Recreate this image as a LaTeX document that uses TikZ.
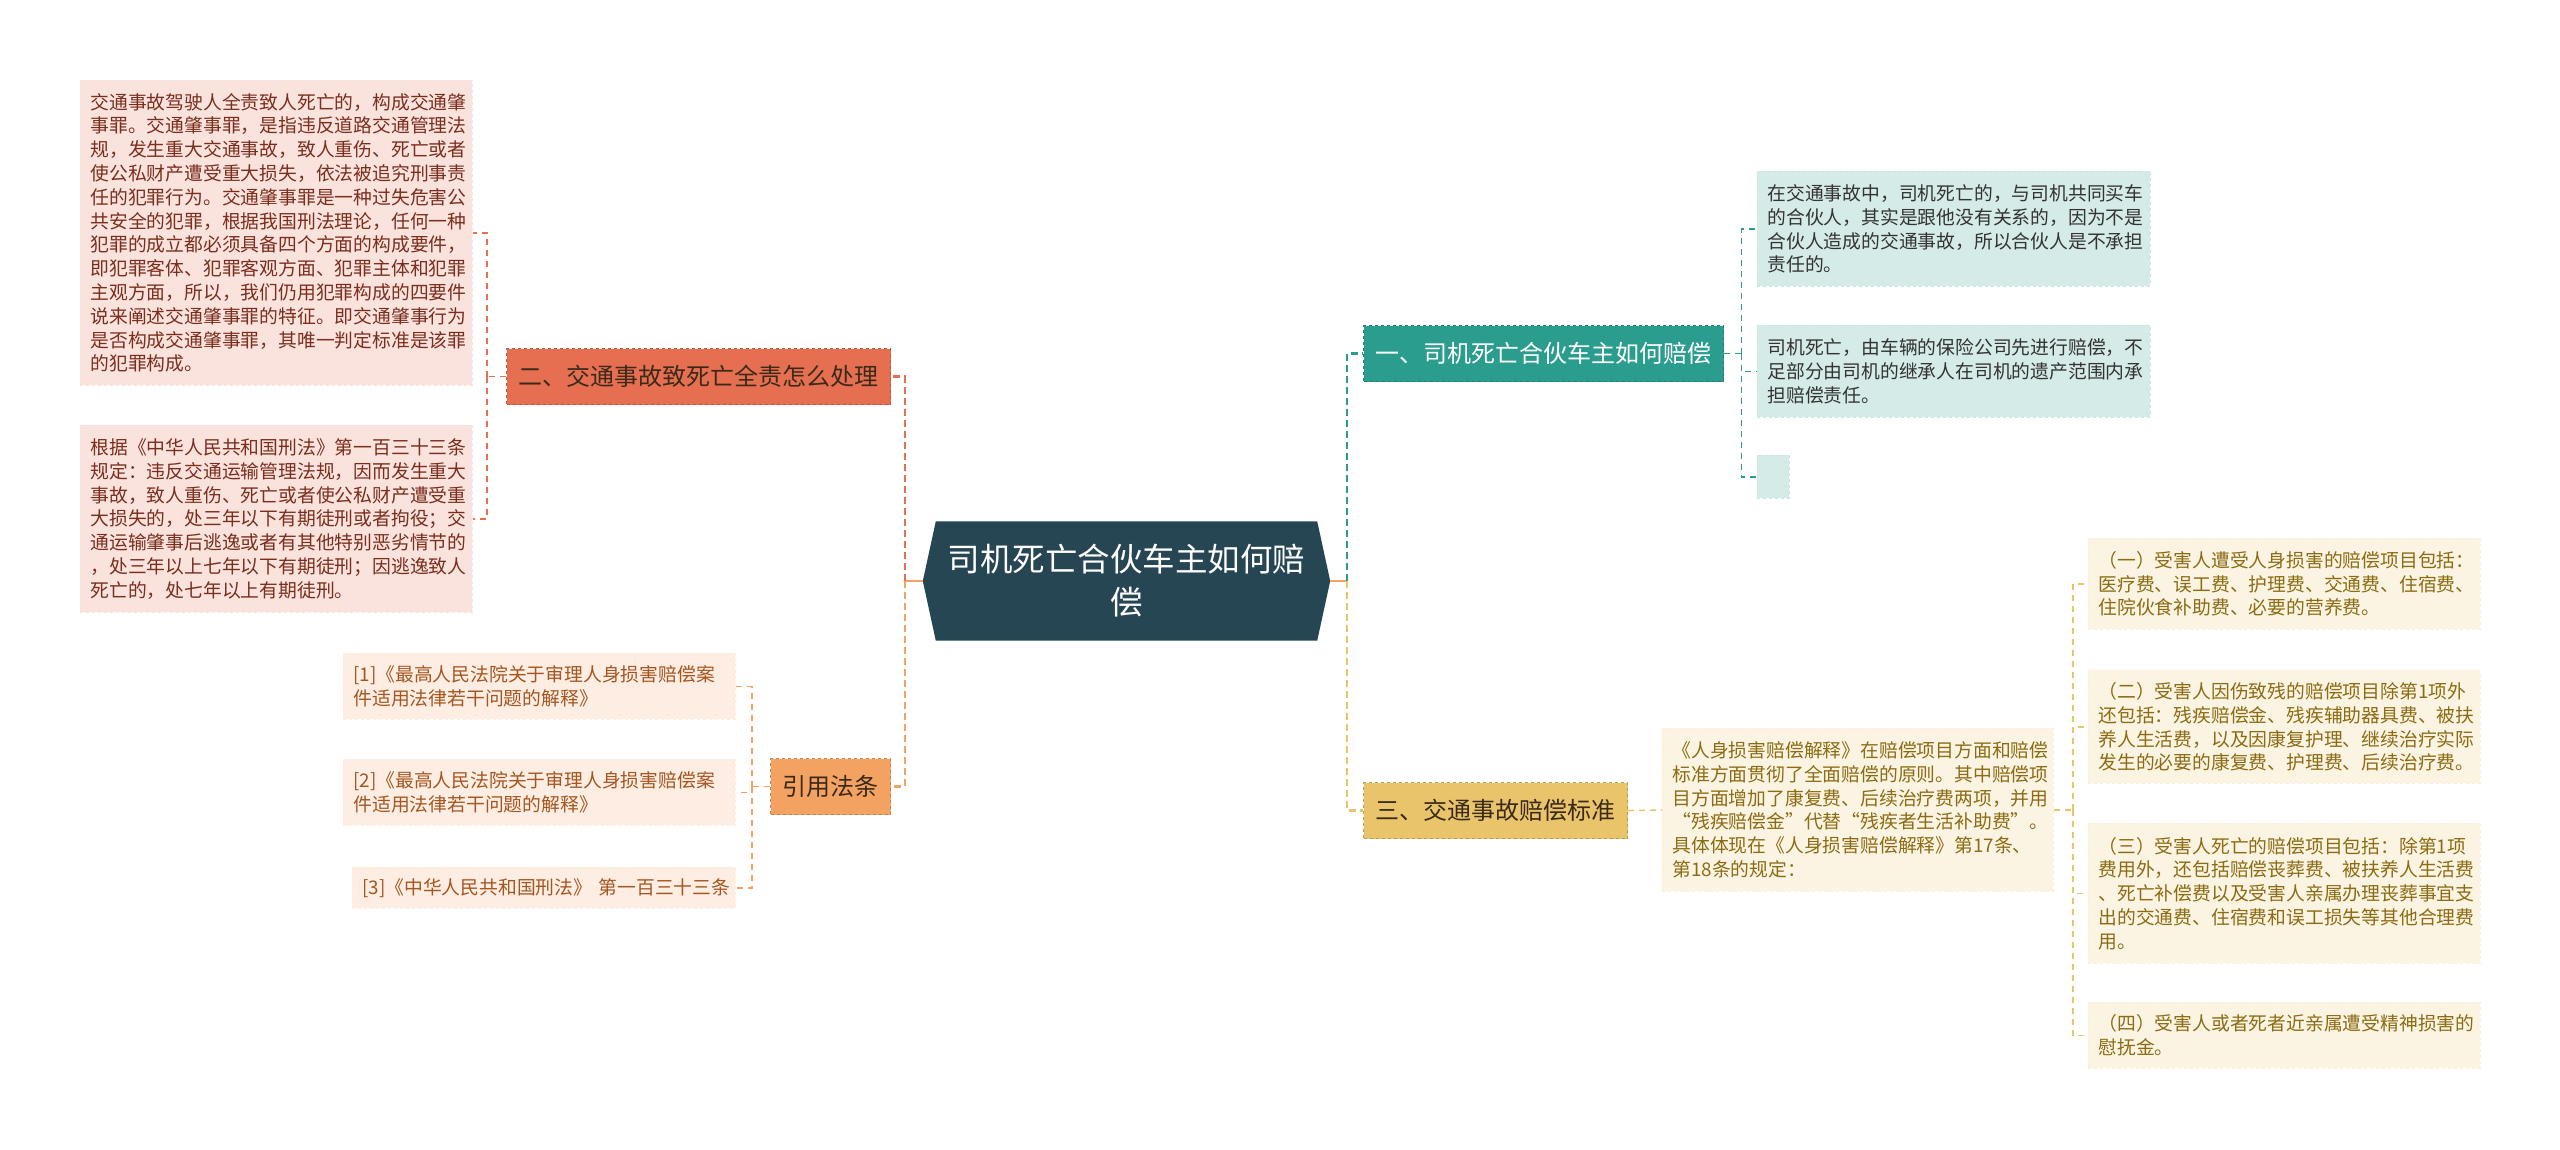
\documentclass[tikz,border=0pt]{standalone}
\usepackage{fontspec}
\setmainfont{Noto Sans CJK SC}
\usetikzlibrary{positioning,calc,backgrounds}
\definecolor{mmroot}{HTML}{264653}
\definecolor{mmteal}{HTML}{2A9D8F}
\definecolor{mmgold}{HTML}{E9C46A}
\definecolor{mmorange}{HTML}{F4A261}
\definecolor{mmred}{HTML}{E76F51}
\definecolor{leafteal}{HTML}{D5EBE8}
\definecolor{leafred}{HTML}{FBE3DD}
\definecolor{leaforange}{HTML}{FDEDE3}
\definecolor{leafgold}{HTML}{FBF4E3}
\definecolor{txtred}{HTML}{7A2E1D}
\definecolor{txtorange}{HTML}{A5561F}
\definecolor{txtgold}{HTML}{8C6B12}
\definecolor{txtdark}{HTML}{3A2A1A}
\newcommand{\leaffont}{\fontsize{18.8}{23.8}\selectfont}
\newcommand{\branchfont}{\fontsize{24}{29}\selectfont}
\newcommand{\rootfont}{\fontsize{32.5}{43}\selectfont}

\begin{document}
\begin{tikzpicture}[x=1pt, y=-1pt,
  rootbox/.style={inner sep=0pt, minimum width=407pt, minimum height=119pt,
    align=center, text=white, font=\rootfont},
  branchbox/.style={rectangle, anchor=north west, inner sep=0pt, minimum height=56pt,
    dashed, line width=1.2pt, font=\branchfont, text=txtdark},
  leafbox/.style={rectangle, anchor=north west, inner sep=0pt, inner xsep=10pt,
    align=left, dashed, line width=0.8pt, font=\leaffont},
  mainline/.style={dashed, dash pattern=on 7pt off 4pt, line width=2.4pt},
  thinline/.style={dashed, dash pattern=on 6pt off 5pt, line width=1.4pt},
  stubline/.style={mmorange, line width=2.4pt}]

  \useasboundingbox (0,0) rectangle (2560,1149);

  % Root
  \node[rootbox] (root) at (1126.5,581) {司机死亡合伙车主如何赔\\偿};
  \begin{scope}[on background layer]
    \fill[white] (0,0) rectangle (2560,1149);
    \fill[mmroot] ($(root.north west)+(13,0)$) -- ($(root.north east)+(-13,0)$) -- (root.east)
      -- ($(root.south east)+(-13,0)$) -- ($(root.south west)+(13,0)$) -- (root.west) -- cycle;
  \end{scope}

  % Branches
  \node[branchbox, fill=mmteal, draw=mmteal!80!black, text=white, minimum width=360pt] (b1) at (1363,325) {一、司机死亡合伙车主如何赔偿};
  \node[branchbox, fill=mmred, draw=mmred!80!black, minimum width=384pt] (b2) at (506,348) {二、交通事故致死亡全责怎么处理};
  \node[branchbox, fill=mmgold, draw=mmgold!80!black, minimum width=264pt] (b3) at (1363,782) {三、交通事故赔偿标准};
  \node[branchbox, fill=mmorange, draw=mmorange!80!black, minimum width=120pt] (b4) at (770,758) {引用法条};

  % Leaves of branch 1
  \node[leafbox, fill=leafteal, draw=mmteal!25, text=black!80, text width=373pt, minimum height=115pt] (t1) at (1757,171)
    {在交通事故中，司机死亡的，与司机共同买车\\的合伙人，其实是跟他没有关系的，因为不是\\合伙人造成的交通事故，所以合伙人是不承担\\责任的。};
  \node[leafbox, fill=leafteal, draw=mmteal!25, text=black!80, text width=373pt, minimum height=92pt] (t2) at (1757,325)
    {司机死亡，由车辆的保险公司先进行赔偿，不\\足部分由司机的继承人在司机的遗产范围内承\\担赔偿责任。};
  \node[leafbox, fill=leafteal, draw=mmteal!25, inner xsep=0pt, minimum width=32pt, minimum height=43pt] (t3) at (1757,455) {};

  % Leaves of branch 2
  \node[leafbox, fill=leafred, draw=mmred!20, text=txtred, text width=372pt, minimum height=305pt] (l1) at (80,80)
    {交通事故驾驶人全责致人死亡的，构成交通肇\\事罪。交通肇事罪，是指违反道路交通管理法\\规，发生重大交通事故，致人重伤、死亡或者\\使公私财产遭受重大损失，依法被追究刑事责\\任的犯罪行为。交通肇事罪是一种过失危害公\\共安全的犯罪，根据我国刑法理论，任何一种\\犯罪的成立都必须具备四个方面的构成要件，\\即犯罪客体、犯罪客观方面、犯罪主体和犯罪\\主观方面，所以，我们仍用犯罪构成的四要件\\说来阐述交通肇事罪的特征。即交通肇事行为\\是否构成交通肇事罪，其唯一判定标准是该罪\\的犯罪构成。};
  \node[leafbox, fill=leafred, draw=mmred!20, text=txtred, text width=372pt, minimum height=187pt] (l2) at (80,425)
    {根据《中华人民共和国刑法》第一百三十三条\\规定：违反交通运输管理法规，因而发生重大\\事故，致人重伤、死亡或者使公私财产遭受重\\大损失的，处三年以下有期徒刑或者拘役；交\\通运输肇事后逃逸或者有其他特别恶劣情节的\\，处三年以上七年以下有期徒刑；因逃逸致人\\死亡的，处七年以上有期徒刑。};

  % Leaves of branch 4
  \node[leafbox, fill=leaforange, draw=mmorange!20, text=txtorange, text width=372pt, minimum height=66pt] (ref1) at (343,653)
    {[1]《最高人民法院关于审理人身损害赔偿案\\件适用法律若干问题的解释》};
  \node[leafbox, fill=leaforange, draw=mmorange!20, text=txtorange, text width=372pt, minimum height=66pt] (ref2) at (343,759)
    {[2]《最高人民法院关于审理人身损害赔偿案\\件适用法律若干问题的解释》};
  \node[leafbox, fill=leaforange, draw=mmorange!20, text=txtorange, text width=363pt, minimum height=41pt] (ref3) at (352,867)
    {\mbox{[3]《中华人民共和国刑法》 第一百三十三条}};

  % Leaves of branch 3
  \node[leafbox, fill=leafgold, draw=mmgold!25, text=txtgold, text width=371pt, minimum height=163pt] (g0) at (1662,728)
    {《人身损害赔偿解释》在赔偿项目方面和赔偿\\标准方面贯彻了全面赔偿的原则。其中赔偿项\\目方面增加了康复费、后续治疗费两项，并用\\“残疾赔偿金”代替“残疾者生活补助费”。\\具体体现在《人身损害赔偿解释》第17条、\\第18条的规定：};
  \node[leafbox, fill=leafgold, draw=mmgold!25, text=txtgold, text width=372pt, minimum height=91pt] (r1) at (2088,538)
    {（一）受害人遭受人身损害的赔偿项目包括：\\医疗费、误工费、护理费、交通费、住宿费、\\住院伙食补助费、必要的营养费。};
  \node[leafbox, fill=leafgold, draw=mmgold!25, text=txtgold, text width=372pt, minimum height=113pt] (r2) at (2088,670)
    {（二）受害人因伤致残的赔偿项目除第1项外\\还包括：残疾赔偿金、残疾辅助器具费、被扶\\养人生活费，以及因康复护理、继续治疗实际\\发生的必要的康复费、护理费、后续治疗费。};
  \node[leafbox, fill=leafgold, draw=mmgold!25, text=txtgold, text width=372pt, minimum height=140pt] (r3) at (2088,823)
    {（三）受害人死亡的赔偿项目包括：除第1项\\费用外，还包括赔偿丧葬费、被扶养人生活费\\、死亡补偿费以及受害人亲属办理丧葬事宜支\\出的交通费、住宿费和误工损失等其他合理费\\用。};
  \node[leafbox, fill=leafgold, draw=mmgold!25, text=txtgold, text width=372pt, minimum height=66pt] (r4) at (2088,1002)
    {（四）受害人或者死者近亲属遭受精神损害的\\慰抚金。};

  % Root to branches
  \draw[stubline] (root.west) -- ++(-18,0) coordinate (jl);
  \draw[stubline] (root.east) -- ++(17,0) coordinate (jr);
  \draw[mainline, mmred]    (jl) |- (b2.east);
  \draw[mainline, mmorange] (jl) |- (b4.east);
  \draw[mainline, mmteal]   (jr) |- (b1.west);
  \draw[mainline, mmgold]   (jr) |- (b3.west);

  % Branches to leaves
  \draw[thinline, mmteal] (b1.east) -- ++(17,0) coordinate (j1);
  \draw[thinline, mmteal] (j1) |- (t1.west);
  \draw[thinline, mmteal] (j1) |- (t2.west);
  \draw[thinline, mmteal] (j1) |- (t3.west);

  \draw[thinline, mmred] (b2.west) -- ++(-19,0) coordinate (j2);
  \draw[thinline, mmred] (j2) |- (l1.east);
  \draw[thinline, mmred] (j2) |- (l2.east);

  \draw[thinline, mmorange] (b4.west) -- ++(-18,0) coordinate (j4);
  \draw[thinline, mmorange] (j4) |- (ref1.east);
  \draw[thinline, mmorange] (j4) |- (ref2.east);
  \draw[thinline, mmorange] (j4) |- (ref3.east);

  \draw[thinline, mmgold] (b3.east) -- (g0.west);
  \draw[thinline, mmgold] (g0.east) -- ++(19,0) coordinate (j3);
  \draw[thinline, mmgold] (j3) |- (r1.west);
  \draw[thinline, mmgold] (j3) |- (r2.west);
  \draw[thinline, mmgold] (j3) |- (r3.west);
  \draw[thinline, mmgold] (j3) |- (r4.west);
\end{tikzpicture}
\end{document}
